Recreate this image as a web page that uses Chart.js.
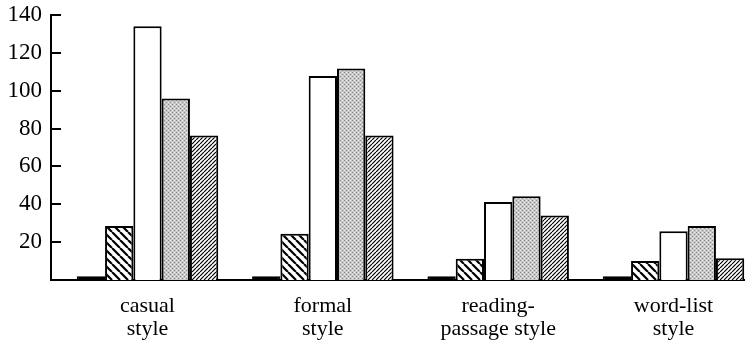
<!DOCTYPE html>
<html>
<head>
<meta charset="utf-8">
<script src="https://cdn.jsdelivr.net/npm/chart.js@4/dist/chart.umd.min.js"></script>
<style>
    html, body { margin: 0; padding: 0; background: #fff; overflow: hidden; }
    #wrap { width: 745px; height: 351px; }
</style>
</head>
<body>
<div id="wrap"><canvas id="styleChart" width="745" height="351"></canvas></div>
<script>
// categories (two-line labels) and their positions on the x axis
const categories = [['casual', 'style'], ['formal', 'style'], ['reading-', 'passage style'], ['word-list', 'style']];
const positions = [1, 2, 3, 4];

// series values
const seriesBlack = [2, 2, 2, 2];
const seriesBackHatch = [28.5, 24.4, 11.2, 10];
const seriesWhite = [134, 107.8, 41.2, 25.8];
const seriesGray = [95.9, 111.7, 44.3, 28.5];
const seriesHatch = [76.4, 76.4, 34.1, 11.5];

const yTicks = [20, 40, 60, 80, 100, 120, 140];

// hatch / stipple fills
function makeHatch(size, width, back) {
    const c = document.createElement('canvas');
    c.width = size;
    c.height = size;
    const g = c.getContext('2d');
    g.fillStyle = '#fff';
    g.fillRect(0, 0, size, size);
    g.strokeStyle = '#000';
    g.lineWidth = width;
    g.beginPath();
    for (let k = -1; k <= 1; k++) {
        if (back) {
            g.moveTo(k * size, 0);
            g.lineTo(k * size + size, size);
        } else {
            g.moveTo(k * size, size);
            g.lineTo(k * size + size, 0);
        }
    }
    g.stroke();
    return g.createPattern(c, 'repeat');
}

function makeStipple() {
    const c = document.createElement('canvas');
    c.width = 4;
    c.height = 4;
    const g = c.getContext('2d');
    g.fillStyle = '#c8c8c8';
    g.fillRect(0, 0, 4, 4);
    g.fillStyle = '#888';
    g.fillRect(0, 0, 1, 1);
    g.fillRect(2, 2, 1, 1);
    g.fillStyle = '#eee';
    g.fillRect(2, 0, 1, 1);
    g.fillRect(0, 2, 1, 1);
    return g.createPattern(c, 'repeat');
}

function toPoints(values) {
    return values.map((v, i) => ({ x: positions[i], y: v }));
}

const fills = [
    '#000',
    makeHatch(8, 2.2, true),
    '#fff',
    makeStipple(),
    makeHatch(4, 1.2, false),
];
const seriesList = [seriesBlack, seriesBackHatch, seriesWhite, seriesGray, seriesHatch];
const seriesNames = ['A', 'B', 'C', 'D', 'E'];

const datasets = seriesList.map((s, i) => ({
    label: seriesNames[i],
    data: toPoints(s),
    backgroundColor: fills[i],
    borderColor: '#000',
    borderWidth: 2,
    categoryPercentage: 0.807,
    barPercentage: 1.0,
}));

const serif = "'Liberation Serif', 'DejaVu Serif', serif";

const ctx = document.getElementById('styleChart').getContext('2d');

new Chart(ctx, {
    type: 'bar',
    data: { datasets: datasets },
    options: {
        responsive: false,
        animation: false,
        maintainAspectRatio: false,
        layout: { padding: { top: 15, right: 0, left: 0, bottom: 0 } },
        plugins: {
            legend: { display: false },
            tooltip: { enabled: false },
        },
        scales: {
            x: {
                type: 'linear',
                offset: false,
                min: 0.4496,
                max: 4.4078,
                afterBuildTicks: (scale) => {
                    scale.ticks = positions.map(p => ({ value: p }));
                },
                afterFit: (scale) => { scale.height = 71; },
                grid: { display: false, drawTicks: false, offset: false },
                border: { display: true, color: '#000', width: 2 },
                ticks: {
                    color: '#000',
                    padding: 15,
                    maxRotation: 0,
                    autoSkip: false,
                    font: { family: serif, size: 22, lineHeight: 1.05 },
                    callback: (value) => categories[positions.indexOf(value)],
                },
            },
            y: {
                min: 0,
                max: 140,
                afterBuildTicks: (scale) => {
                    scale.ticks = yTicks.map(v => ({ value: v }));
                },
                afterFit: (scale) => {
                    scale.width = 51;
                    scale.paddingTop = 0;
                    scale.paddingBottom = 0;
                },
                grid: { drawOnChartArea: false, drawTicks: true, tickLength: -10, color: '#000', lineWidth: 2 },
                border: { display: true, color: '#000', width: 2 },
                ticks: {
                    color: '#000',
                    padding: 19,
                    font: { family: serif, size: 23 },
                },
            },
        },
    },
});
</script>
</body>
</html>
